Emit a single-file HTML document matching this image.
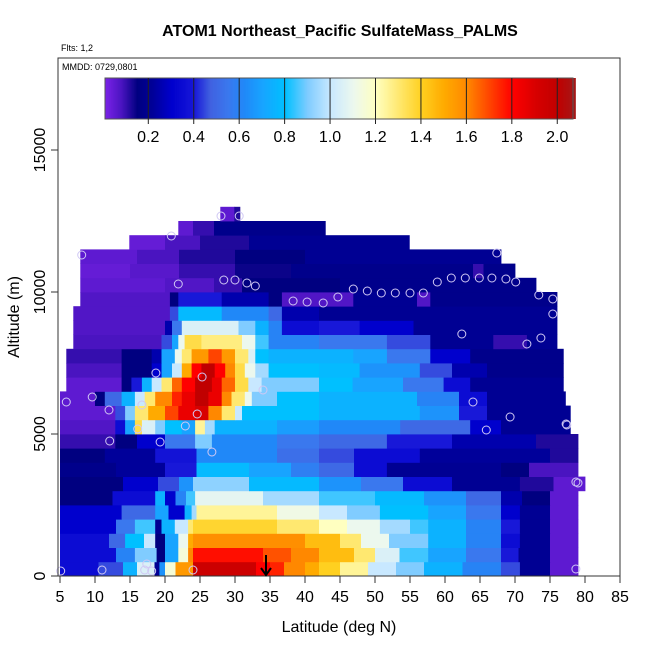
<!DOCTYPE html>
<html><head><meta charset="utf-8"><style>
body{margin:0;background:#fff;}
svg{display:block;font-family:"Liberation Sans",sans-serif;}
</style></head><body>
<svg id="chart" width="650" height="650" viewBox="0 0 650 650" xmlns="http://www.w3.org/2000/svg">
<text x="340" y="36" text-anchor="middle" font-size="16" font-weight="bold">ATOM1 Northeast_Pacific SulfateMass_PALMS</text>
<text x="61" y="51" font-size="9">Flts: 1,2</text>
<g id="heat"></g>
<g id="pts"></g>
<rect x="58" y="58" width="562" height="518" fill="none" stroke="#333" stroke-width="1"/>
<text x="62" y="70" font-size="9">MMDD: 0729,0801</text>
<g id="cbar"></g>
<g id="axes"></g>
<text x="339" y="632" text-anchor="middle" font-size="16">Latitude (deg N)</text>
<text transform="translate(19,317) rotate(-90)" text-anchor="middle" font-size="16">Altitude (m)</text>
<g stroke="#000" stroke-width="2" fill="none">
<line x1="266" y1="555" x2="266" y2="575"/><polyline points="261,568 266,575 271,568"/>
</g>
</svg>
<script>
const xTicks=[5,10,15,20,25,30,35,40,45,50,55,60,65,70,75,80,85];
const yTicks=[0,5000,10000,15000];
const cbTicks=[0.2,0.4,0.6,0.8,1.0,1.2,1.4,1.6,1.8,2.0];
const rowStep=500;
const heatRows=[
[[5,10.5,0.35],[10.5,14,0.45],[14,16,0.75],[16,18.5,1.05],[18.5,19.2,0.2],[19.2,20,0.65],[20,21.5,1.15],[21.5,24,1.55],[24,33,1.95],[33,35,1.8],[35,37,1.75],[37,40,1.6],[40,42,1.5],[42,45,1.4],[45,49,1.25],[49,53,1.0],[53,57,0.9],[57,62.5,0.75],[62.5,68,0.6],[68,70.7,0.45],[70.7,75,0.2],[75,79,0.05]],
[[5,13,0.35],[13,15.7,0.6],[15.7,18.8,0.9],[18.8,20,0.15],[20,21.9,0.7],[21.9,23.3,1.15],[23.3,24,1.6],[24,34,1.78],[34,38,1.68],[38,42,1.6],[42,47,1.45],[47,50,1.3],[50,53.5,1.05],[53.5,57.6,0.85],[57.6,63,0.7],[63,68,0.55],[68,70.5,0.4],[70.5,75,0.2],[75,79,0.05]],
[[5,12,0.35],[12,14.3,0.5],[14.3,17,0.8],[17,18.6,1.0],[18.6,20,0.15],[20,21.9,0.7],[21.9,23.3,1.1],[23.3,24,1.5],[24,40,1.58],[40,45,1.45],[45,48,1.3],[48,52,1.1],[52,57.6,0.9],[57.6,63,0.75],[63,68,0.6],[68,70.7,0.35],[70.7,75,0.2],[75,79,0.05]],
[[5,13,0.3],[13,15.7,0.55],[15.7,18.6,0.85],[18.6,19.5,0.2],[19.5,21.4,0.75],[21.4,23.3,1.0],[23.3,24,1.3],[24,36,1.38],[36,42,1.3],[42,46,1.2],[46,50.7,1.1],[50.7,55,0.95],[55,57.6,0.85],[57.6,63,0.75],[63,68,0.6],[68,70.7,0.4],[70.7,75,0.2],[75,79,0.05]],
[[5,13.8,0.3],[13.8,18.6,0.5],[18.6,20.5,0.7],[20.5,22.8,0.3],[22.8,23.8,0.75],[23.8,24.5,0.95],[24.5,36,1.25],[36,42,1.12],[42,46,1.0],[46,50.7,0.9],[50.7,57.6,0.8],[57.6,63,0.7],[63,68,0.55],[68,70.7,0.3],[70.7,75,0.2],[75,79,0.05]],
[[5,12.5,0.15],[12.5,18.6,0.35],[18.6,20,0.75],[20,21.5,0.3],[21.5,23,0.6],[23,24.3,0.85],[24.3,34,1.08],[34,42,0.95],[42,50,0.85],[50,57,0.78],[57,63,0.65],[63,68,0.5],[68,71,0.25],[71,75,0.15],[75,79,0.05]],
[[5,14,0.15],[14,19,0.3],[19,22,0.45],[22,24,0.65],[24,32,0.92],[32,42,0.78],[42,48,0.65],[48,54,0.55],[54,61,0.35],[61,70.7,0.2],[70.7,75.5,0.12],[75.5,80,0.05]],
[[5,13,0.18],[13,20,0.22],[20,24.5,0.4],[24.5,32,0.78],[32,38,0.7],[38,42,0.58],[42,47,0.5],[47,51.7,0.35],[51.7,68,0.2],[68,72,0.15],[72,79,0.08]],
[[5,11.4,0.15],[11.4,18.6,0.22],[18.6,24.5,0.38],[24.5,36,0.62],[36,42,0.52],[42,47,0.45],[47,56.4,0.35],[56.4,75,0.22],[75,79,0.12]],
[[5,12.9,0.1],[12.9,16,0.15],[16,20,0.3],[20,24.3,0.55],[24.3,26.7,0.9],[26.7,36,0.62],[36,42,0.55],[42,51.7,0.5],[51.7,61,0.4],[61,73,0.25],[73,79,0.12]],
[[5,12.9,0.07],[12.9,14.3,0.35],[14.3,15.7,0.7],[15.7,16.7,1.35],[16.7,18.6,1.05],[18.6,20,0.9],[20,22.4,0.8],[22.4,24.3,0.7],[24.3,25.7,1.25],[25.7,27.1,0.95],[27.1,36,0.75],[36,42,0.68],[42,53.6,0.62],[53.6,63.6,0.5],[63.6,68,0.3],[68,77.9,0.2]],
[[5,12.9,0.05],[12.9,14.3,0.45],[14.3,15.7,0.9],[15.7,17.6,1.3],[17.6,20,1.5],[20,21.9,1.7],[21.9,24.3,1.85],[24.3,26.2,1.9],[26.2,28.1,1.6],[28.1,30,1.3],[30,31,1.0],[31,42,0.8],[42,56.4,0.75],[56.4,62,0.65],[62,66,0.4],[66,77.9,0.2]],
[[5,10,0.05],[10,11.4,0.15],[11.4,13.8,0.5],[13.8,15.7,0.75],[15.7,17.1,1.0],[17.1,18.6,1.3],[18.6,21,1.6],[21,22.4,1.75],[22.4,24.3,1.85],[24.3,26.2,2.0],[26.2,28.1,1.85],[28.1,29.5,1.6],[29.5,31.4,1.3],[31.4,32.4,1.1],[32.4,36,0.9],[36,42,0.8],[42,56,0.75],[56,62,0.6],[62,66,0.35],[66,77.2,0.2]],
[[5.9,13.8,0.05],[13.8,15.2,0.15],[15.2,16.7,0.4],[16.7,18.1,0.75],[18.1,19.5,1.0],[19.5,21,1.3],[21,22.4,1.65],[22.4,24.3,1.8],[24.3,26.7,2.0],[26.7,28.1,1.85],[28.1,30,1.65],[30,31.9,1.35],[31.9,33.8,1.0],[33.8,42,0.9],[42,46.8,0.8],[46.8,54,0.7],[54,59.8,0.55],[59.8,63.6,0.35],[63.6,76.9,0.2]],
[[5.9,13.8,0.08],[13.8,18.1,0.15],[18.1,19.5,0.3],[19.5,21,0.7],[21,22.4,1.0],[22.4,23.8,1.5],[23.8,25.2,1.8],[25.2,27.1,2.0],[27.1,28.6,1.8],[28.6,30,1.6],[30,31.4,1.35],[31.4,32.9,1.1],[32.9,34.8,0.95],[34.8,42,0.8],[42,47.8,0.78],[47.8,56.4,0.65],[56.4,61,0.45],[61,66,0.25],[66,76.9,0.18]],
[[5.9,13.8,0.1],[13.8,18.1,0.15],[18.1,19.5,0.25],[19.5,21.4,0.7],[21.4,22.4,1.1],[22.4,23.8,1.3],[23.8,26.2,1.55],[26.2,28.1,1.7],[28.1,30,1.55],[30,31.9,1.3],[31.9,32.9,1.05],[32.9,34.8,0.8],[34.8,46.9,0.75],[46.9,51.7,0.7],[51.7,57.9,0.55],[57.9,63.6,0.3],[63.6,76.9,0.18]],
[[6.9,19.5,0.08],[19.5,21,0.45],[21,21.9,0.7],[21.9,22.8,1.1],[22.8,25.2,1.35],[25.2,31,1.28],[31,32.9,1.1],[32.9,34.8,0.85],[34.8,42,0.6],[42,51.7,0.55],[51.7,57.9,0.45],[57.9,66.9,0.2],[66.9,71.7,0.1],[71.7,76,0.2]],
[[6.9,20,0.07],[20,21,0.25],[21,22.4,0.55],[22.4,30.5,1.05],[30.5,32.9,0.9],[32.9,34.8,0.75],[34.8,36.7,0.6],[36.7,42,0.35],[42,47.8,0.4],[47.8,55.5,0.3],[55.5,76,0.2]],
[[6.9,20.7,0.07],[20.7,21.9,0.45],[21.9,28.1,0.78],[28.1,34.8,0.62],[34.8,36.7,0.5],[36.7,42,0.25],[42,76,0.2]],
[[7.9,20.7,0.07],[20.7,21.9,0.15],[21.9,28.1,0.4],[28.1,34.8,0.25],[34.8,36.7,0.15],[36.7,46.9,0.07],[46.9,56,0.2],[56,57.9,0.07],[57.9,76,0.18]],
[[7.9,20,0.05],[20,27,0.07],[27,31,0.1],[31,45,0.15],[45,73,0.18]],
[[7.9,15,0.04],[15,22,0.06],[22,30,0.1],[30,38,0.14],[38,64,0.18],[64,65.5,0.1],[65.5,70,0.18]],
[[7.9,16,0.05],[16,22,0.08],[22,30,0.12],[30,40,0.15],[40,68,0.2]],
[[14.9,20,0.04],[20,25,0.08],[25,32,0.12],[32,54.9,0.2]],
[[21.9,24,0.05],[24,27,0.1],[27,42.9,0.18]],
[[27.9,29.9,0.05],[29.9,30.7,0.12]]
];
const pointLats=[5.1,11.0,17.4,17.1,18.1,24.0,5.9,9.6,12.0,16.7,24.6,16.1,22.9,12.1,19.3,26.7,34.0,8.1,20.9,28.0,30.6,21.9,28.4,30.0,31.7,32.9,18.7,25.3,38.3,40.3,42.6,44.7,46.9,48.9,50.9,52.9,55.0,56.9,58.9,60.9,62.9,64.9,66.7,68.7,70.1,67.4,73.4,75.4,75.4,62.4,73.7,71.7,64.0,69.3,65.9,77.3,77.4,78.7,79.0,78.7];
const pointAlts=[176,211,423,211,176,211,6127,6303,5845,6021,5704,5176,5282,4753,4718,4366,6549,11303,11972,12676,12676,10282,10423,10423,10317,10211,7148,7007,9683,9648,9613,9824,10106,10035,9965,9965,9965,9965,10352,10493,10493,10493,10493,10458,10352,11373,9894,9754,9225,8521,8380,8169,6127,5598,5141,5352,5317,3310,3275,246];

const NS="http://www.w3.org/2000/svg";
const xS=lat=>60+(lat-5)*7;
const yS=alt=>576-alt*0.0284;
const cbX=v=>148.3+(v-0.2)*227.2;
const stops=[[0,"#8024ec"],[0.08,"#4a14c0"],[0.15,"#000080"],[0.22,"#00009a"],[0.3,"#0000cd"],[0.4,"#1818d8"],[0.47,"#4060e0"],[0.55,"#3a78ee"],[0.62,"#2088f8"],[0.7,"#18a4ff"],[0.8,"#00c0ff"],[0.9,"#80ccff"],[1.0,"#c8e8ff"],[1.1,"#ecf8ee"],[1.2,"#ffffc0"],[1.3,"#ffe870"],[1.4,"#ffd020"],[1.5,"#ffaa00"],[1.6,"#ff8800"],[1.7,"#ff4400"],[1.8,"#ff0000"],[1.9,"#d80000"],[2.0,"#c00000"],[2.1,"#9c2020"]];
function hx(h){return [1,3,5].map(i=>parseInt(h.substr(i,2),16));}
function cmap(v){
  if(v<=stops[0][0])return stops[0][1];
  for(let i=1;i<stops.length;i++){
    if(v<=stops[i][0]){
      const a=hx(stops[i-1][1]),b=hx(stops[i][1]);
      const t=(v-stops[i-1][0])/(stops[i][0]-stops[i-1][0]);
      return "rgb("+a.map((c,k)=>Math.round(c+(b[k]-c)*t)).join(",")+")";
    }
  }
  return stops[stops.length-1][1];
}
function mk(tag,attrs,parent){const e=document.createElementNS(NS,tag);for(const k in attrs)e.setAttribute(k,attrs[k]);parent.appendChild(e);return e;}

const heat=document.getElementById("heat");
heatRows.forEach((row,r)=>{
  const y0=yS((r+1)*rowStep),y1=yS(r*rowStep);
  row.forEach(seg=>{
    const e=mk("rect",{x:xS(seg[0]).toFixed(2),y:y0.toFixed(2),width:(xS(seg[1])-xS(seg[0])+0.4).toFixed(2),height:(y1-y0+0.4).toFixed(2),fill:cmap(seg[2])},heat);
    
    
  });
});
const pts=document.getElementById("pts");
pointLats.forEach((lat,i)=>{
  const c=mk("circle",{cx:xS(lat).toFixed(1),cy:yS(pointAlts[i]).toFixed(1),r:4,fill:"none",stroke:"#d0c8f4","stroke-width":1},pts);
  
  
});
const cb=document.getElementById("cbar");
for(let v=0.01;v<2.075;v+=0.005){
  const x=cbX(v);
  const e=mk("rect",{x:x.toFixed(2),y:78,width:(0.005*227.2+0.4).toFixed(2),height:41,fill:cmap(v)},cb);
  
  
}
const cbf=mk("rect",{x:105,y:78,width:468,height:41,fill:"none",stroke:"#555","stroke-width":1},cb);


cbTicks.forEach(v=>{
  const l=mk("line",{x1:cbX(v),x2:cbX(v),y1:78,y2:124,stroke:"#222","stroke-width":1},cb);
  
  
  const t=mk("text",{x:cbX(v),y:142,"text-anchor":"middle","font-size":16},cb);
  t.textContent=v.toFixed(1);
  
  
});
const ax=document.getElementById("axes");
xTicks.forEach(v=>{
  const x=xS(v);
  const l=mk("line",{x1:x,x2:x,y1:576,y2:583,stroke:"#333"},ax);
  
  
  const t=mk("text",{x:x,y:602,"text-anchor":"middle","font-size":16},ax);
  t.textContent=v;
  
  
});
yTicks.forEach(v=>{
  const y=yS(v);
  const l=mk("line",{x1:51,x2:58,y1:y,y2:y,stroke:"#333"},ax);
  
  
  const t=mk("text",{transform:"translate(45,"+y+") rotate(-90)","text-anchor":"middle","font-size":16},ax);
  t.textContent=v;
  
  
});
</script>
</body></html>
